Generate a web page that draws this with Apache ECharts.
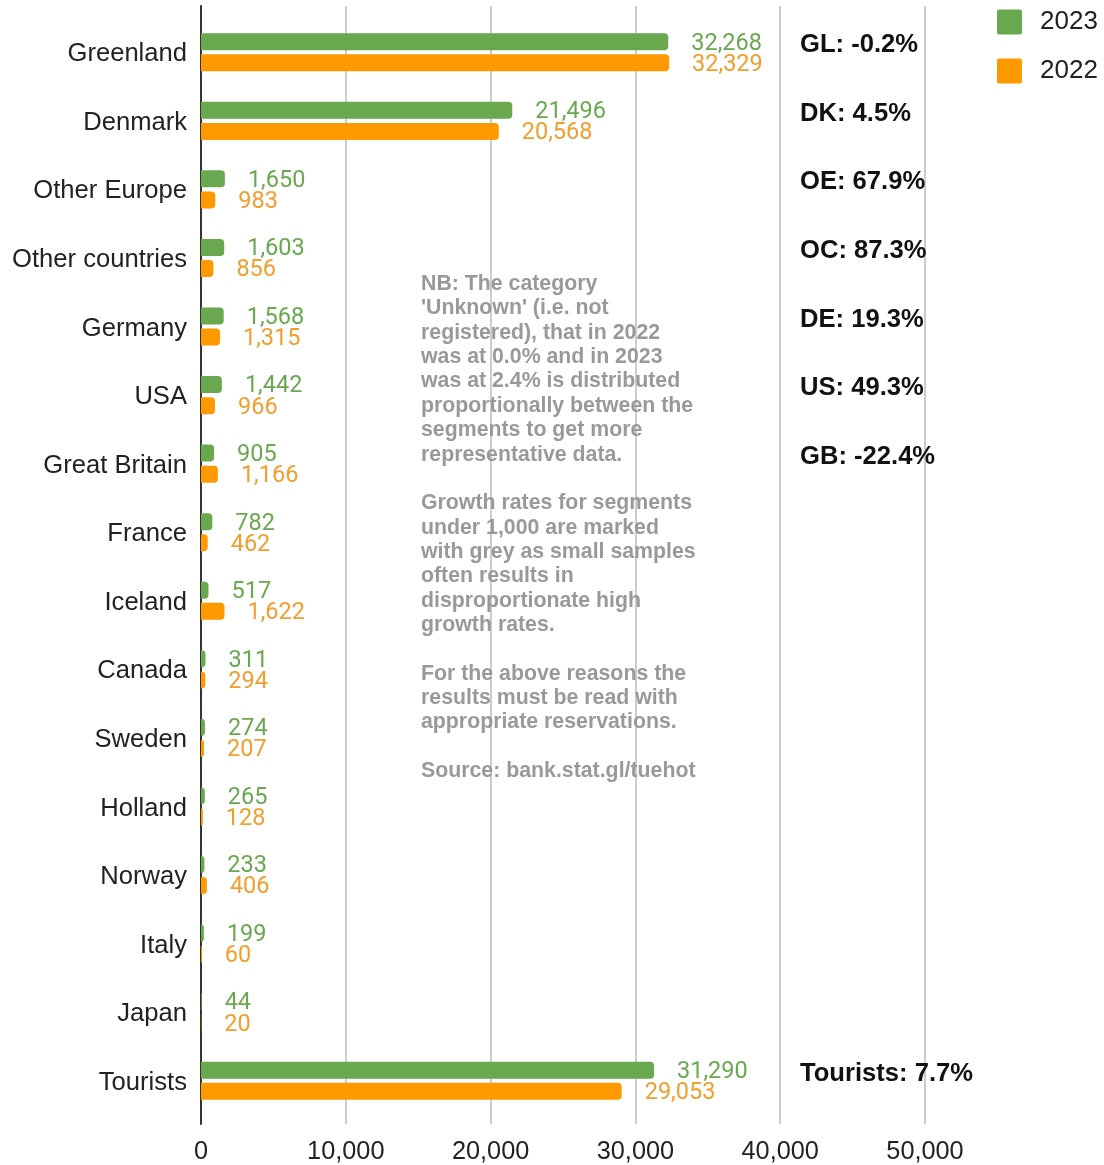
<!DOCTYPE html>
<html>
<head>
<meta charset="utf-8">
<script src="https://cdn.jsdelivr.net/npm/echarts@6/dist/echarts.min.js"></script>
<style>
  html, body { margin: 0; padding: 0; background: #ffffff; }
  #chart { width: 1104px; height: 1165px; }
</style>
</head>
<body>
<div id="chart"></div>
<script>
// Overnight guests by nationality, 2023 vs 2022
const categories = [
  'Greenland', 'Denmark', 'Other Europe', 'Other countries', 'Germany', 'USA',
  'Great Britain', 'France', 'Iceland', 'Canada', 'Sweden', 'Holland',
  'Norway', 'Italy', 'Japan', 'Tourists'
];
const guests2023 = [32268, 21496, 1650, 1603, 1568, 1442, 905, 782, 517, 311, 274, 265, 233, 199, 44, 31290];
const guests2022 = [32329, 20568, 983, 856, 1315, 966, 1166, 462, 1622, 294, 207, 128, 406, 60, 20, 29053];

// Growth-rate notes shown to the right of the bars (empty = no note)
const growthLabels = [
  'GL: -0.2%', 'DK: 4.5%', 'OE: 67.9%', 'OC: 87.3%', 'DE: 19.3%', 'US: 49.3%',
  'GB: -22.4%', '', '', '', '', '', '', '', '', 'Tourists: 7.7%'
];

const axisMax = 50000;
const axisStep = 10000;

const noteLines = [
  'NB: The category',
  "'Unknown' (i.e. not",
  'registered), that in 2022',
  'was at 0.0% and in 2023',
  'was at 2.4% is distributed',
  'proportionally between the',
  'segments to get more',
  'representative data.',
  '',
  'Growth rates for segments',
  'under 1,000 are marked',
  'with grey as small samples',
  'often results in',
  'disproportionate high',
  'growth rates.',
  '',
  'For the above reasons the',
  'results must be read with',
  'appropriate reservations.',
  '',
  'Source: bank.stat.gl/tuehot'
];

const GREEN = '#6aa84f';
const ORANGE = '#ff9900';
const fmt = v => Number(v).toLocaleString('en-US');
const SANS = '"Liberation Sans", Arial, sans-serif';

const chart = echarts.init(document.getElementById('chart'), null, { renderer: 'canvas' });

function barSeries(name, data, color, labelColor) {
  return {
    name: name,
    type: 'bar',
    xAxisIndex: 1,
    yAxisIndex: 1,
    data: data,
    barWidth: 17,
    barGap: '24%',
    itemStyle: { color: color, borderRadius: [0, 4, 4, 0] },
    label: {
      show: true,
      position: 'right',
      distance: 23,
      offset: [0, 2],
      fontFamily: 'Roboto',
      fontSize: 23.5,
      color: labelColor,
      formatter: p => fmt(p.value)
    },
    emphasis: { disabled: true }
  };
}

chart.setOption({
  animation: false,
  backgroundColor: '#ffffff',
  legend: {
    orient: 'vertical',
    left: 992,
    top: 4,
    itemWidth: 25,
    itemHeight: 25,
    itemGap: 23,
    icon: 'path://M2,0 L23,0 Q25,0 25,2 L25,23 Q25,25 23,25 L2,25 Q0,25 0,23 L0,2 Q0,0 2,0 Z',
    selectedMode: false,
    data: ['2023', '2022'],
    textStyle: { fontFamily: SANS, fontSize: 26, color: '#222', padding: [0, 0, 0, 13] }
  },
  grid: [
    // frame: gridlines, value ticks and the zero line
    { left: 201, right: 179, top: 6, bottom: 38, containLabel: false },
    // bars and category labels
    { left: 201, right: 179, top: 18, bottom: 50, containLabel: false }
  ],
  xAxis: [
    {
      gridIndex: 0,
      type: 'value',
      min: 0,
      max: axisMax,
      interval: axisStep,
      axisLine: { show: false },
      axisTick: { show: false },
      splitLine: { show: true, lineStyle: { color: '#cccccc', width: 2 } },
      axisLabel: { fontFamily: SANS, fontSize: 25.3, color: '#222', margin: 16, formatter: v => fmt(v) }
    },
    {
      gridIndex: 1,
      type: 'value',
      min: 0,
      max: axisMax,
      interval: axisStep,
      show: false
    }
  ],
  yAxis: [
    {
      gridIndex: 0,
      type: 'category',
      data: [''],
      axisLabel: { show: false },
      axisTick: { show: false },
      splitLine: { show: false },
      axisLine: { show: true, lineStyle: { color: '#333333', width: 2 } }
    },
    {
      gridIndex: 1,
      type: 'category',
      inverse: true,
      data: categories,
      axisLine: { show: false },
      axisTick: { show: false },
      splitLine: { show: false },
      axisLabel: {
        margin: 14,
        formatter: v => '{c|' + v + '}',
        rich: {
          c: { fontFamily: SANS, fontSize: 25.6, color: '#222', padding: [4, 0, 0, 0] }
        }
      }
    }
  ],
  series: [
    barSeries('2023', guests2023, GREEN, GREEN),
    barSeries('2022', guests2022, ORANGE, '#f29e2e')
  ]
});

// Growth notes and the explanatory text block
const graphics = [];
growthLabels.forEach((txt, i) => {
  if (!txt) return;
  const y = chart.convertToPixel({ yAxisIndex: 1 }, categories[i]);
  graphics.push({
    type: 'text',
    x: 800,
    y: y - 7,
    z: 10,
    style: {
      text: txt,
      font: 'bold 25.6px ' + SANS,
      fill: '#111111',
      verticalAlign: 'middle',
      align: 'left'
    }
  });
});
graphics.push({
  type: 'text',
  x: 421,
  y: 272,
  z: 10,
  style: {
    text: noteLines.join('\n'),
    font: 'bold 21.3px ' + SANS,
    lineHeight: 24.35,
    fill: '#999999',
    verticalAlign: 'top',
    align: 'left'
  }
});
chart.setOption({ graphic: graphics });
</script>
</body>
</html>
